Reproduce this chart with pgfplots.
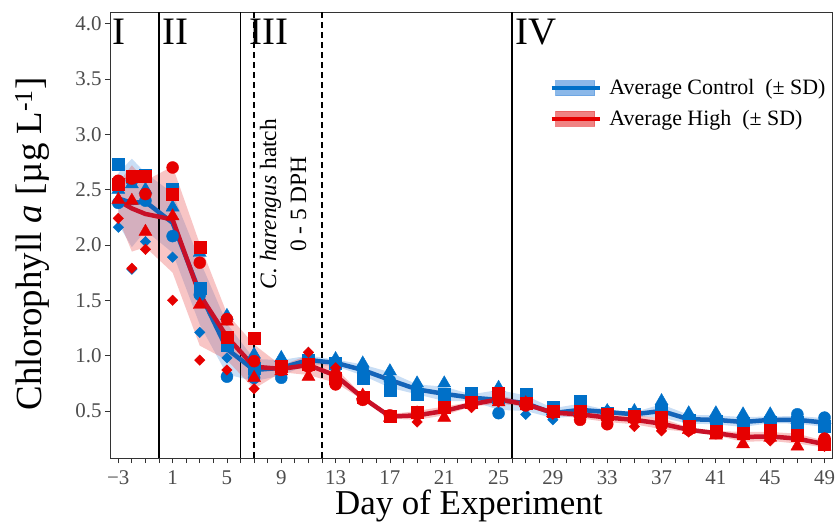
\documentclass[border=0pt]{standalone}
\usepackage{pgfplots}
\pgfplotsset{compat=1.18}
\usepackage{pgfplotstable}
\usepgfplotslibrary{fillbetween}
\usepackage{fontspec}
\setmainfont{Liberation Serif}
\definecolor{cblue}{RGB}{0,112,200}
\definecolor{cline}{RGB}{20,100,185}
\definecolor{cfill}{RGB}{100,160,225}
\definecolor{hred}{RGB}{230,0,0}
\definecolor{hline}{RGB}{200,16,40}
\definecolor{hfill}{RGB}{235,90,90}
\definecolor{tickgray}{RGB}{77,77,77}
\definecolor{axgray}{RGB}{51,51,51}

\pgfplotstableread{
d c1 c2 c3 c4 h1 h2 h3 h4 cm cs hm hs
-3 2.73 2.38 2.50 2.16 2.55 2.58 2.41 2.24 2.42 0.23 2.40 0.16
-2 2.62 2.58 2.55 1.78 2.62 2.60 2.40 1.79 2.38 0.40 2.33 0.39
-1 2.63 2.40 2.50 2.03 2.62 2.46 2.12 1.96 2.39 0.26 2.28 0.30
1 2.50 2.08 2.34 1.89 2.46 2.70 2.26 1.50 2.20 0.27 2.23 0.48
3 1.61 1.55 1.93 1.21 1.98 1.84 1.46 0.96 1.57 0.29 1.55 0.46
5 1.09 0.81 1.36 0.98 1.17 1.33 1.31 0.87 1.06 0.23 1.17 0.21
7 0.89 0.80 1.01 0.78 1.16 0.95 0.80 0.70 0.87 0.10 0.90 0.20
9 0.90 0.80 0.98 0.88 0.90 0.87 0.86 0.88 0.89 0.07 0.88 0.03
11 0.96 0.95 1.01 0.93 0.92 0.90 0.81 1.03 0.96 0.04 0.915 0.09
13 0.93 0.90 0.97 0.94 0.80 0.74 0.86 0.89 0.935 0.03 0.82 0.065
15 0.80 0.88 0.93 0.87 0.62 0.60 0.64 0.61 0.87 0.05 0.62 0.02
17 0.69 0.77 0.86 0.80 0.45 0.46 0.44 0.45 0.78 0.07 0.45 0.02
19 0.65 0.68 0.75 0.70 0.49 0.47 0.48 0.40 0.695 0.045 0.46 0.04
21 0.65 0.60 0.75 0.62 0.53 0.52 0.44 0.50 0.655 0.065 0.50 0.04
23 0.66 0.60 0.64 0.59 0.58 0.57 0.56 0.53 0.62 0.03 0.56 0.02
25 0.62 0.48 0.71 0.59 0.66 0.60 0.58 0.58 0.60 0.09 0.605 0.04
27 0.65 0.57 0.58 0.47 0.57 0.55 0.57 0.55 0.57 0.07 0.56 0.02
29 0.53 0.47 0.50 0.42 0.50 0.49 0.48 0.47 0.48 0.045 0.485 0.02
31 0.59 0.48 0.50 0.47 0.50 0.42 0.48 0.47 0.51 0.055 0.47 0.035
33 0.48 0.47 0.50 0.51 0.47 0.38 0.46 0.45 0.49 0.02 0.44 0.04
35 0.47 0.46 0.50 0.46 0.45 0.43 0.44 0.36 0.47 0.02 0.42 0.04
37 0.50 0.47 0.59 0.45 0.44 0.37 0.41 0.32 0.50 0.06 0.385 0.05
39 0.42 0.41 0.48 0.39 0.36 0.33 0.33 0.31 0.425 0.04 0.33 0.02
41 0.41 0.40 0.48 0.38 0.32 0.30 0.28 0.30 0.42 0.04 0.30 0.02
43 0.39 0.38 0.47 0.37 0.30 0.29 0.20 0.27 0.40 0.045 0.265 0.045
45 0.40 0.41 0.47 0.40 0.33 0.27 0.26 0.23 0.42 0.03 0.27 0.04
47 0.40 0.47 0.42 0.39 0.28 0.27 0.18 0.26 0.42 0.035 0.25 0.045
49 0.36 0.44 0.42 0.36 0.20 0.25 0.18 0.18 0.395 0.04 0.20 0.03
}\data

\begin{document}
\begin{tikzpicture}
\begin{axis}[
  at={(0,0)}, anchor=south west,
  scale only axis, width=722bp, height=446bp,
  xmin=-3.61, xmax=49.55, ymin=0.075, ymax=4.105,
  xtick={-3,1,...,49},
  xticklabels={−3,1,5,9,13,17,21,25,29,33,37,41,45,49},
  minor xtick={-3,...,49},
  ytick={0.5,1,...,4},
  yticklabels={0.5,1.0,1.5,2.0,2.5,3.0,3.5,4.0},
  tick pos=left, tick align=outside,
  major tick length=5bp, minor tick length=5bp,
  tick style={line width=0.8bp, color=axgray},
  axis line style={line width=0.9bp, color=axgray},
  ticklabel style={font=\fontsize{21}{21}\selectfont, color=tickgray},
  xticklabel style={yshift=-4bp},
  xlabel={Day of Experiment},
  ylabel={Chlorophyll \textit{a} [µg L\textsuperscript{-1}]},
  label style={font=\fontsize{35}{35}\selectfont, color=black},
  xlabel style={at={(axis description cs:0.497,-0.126)}, anchor=base},
  ylabel style={at={(axis description cs:-0.108,0.480)}, anchor=center, font=\fontsize{37}{37}\selectfont},
  legend style={at={(axis description cs:0.609,0.853)}, anchor=north west,
    draw=none, fill=none, font=\fontsize{22}{22}\selectfont,
    row sep=10bp, inner sep=0pt,
    nodes={inner xsep=8bp}},
  legend cell align=left,
]
% SD ribbons
\addplot[name path=cu, draw=none, forget plot] table[x=d, y expr=\thisrow{cm}+\thisrow{cs}]{\data};
\addplot[name path=cl, draw=none, forget plot] table[x=d, y expr=\thisrow{cm}-\thisrow{cs}]{\data};
\addplot[fill=cfill, fill opacity=0.35, draw=none, forget plot] fill between[of=cu and cl];
\addplot[name path=hu, draw=none, forget plot] table[x=d, y expr=\thisrow{hm}+\thisrow{hs}]{\data};
\addplot[name path=hl, draw=none, forget plot] table[x=d, y expr=\thisrow{hm}-\thisrow{hs}]{\data};
\addplot[fill=hfill, fill opacity=0.35, draw=none, forget plot] fill between[of=hu and hl];
% phase lines
\draw[black, line width=1.7bp] (axis cs:0,0.075) -- (axis cs:0,4.105);
\draw[black, line width=1.7bp] (axis cs:6,0.075) -- (axis cs:6,4.105);
\draw[black, line width=1.7bp] (axis cs:26,0.075) -- (axis cs:26,4.105);
\draw[black, line width=1.4bp, dash pattern=on 6bp off 4bp] (axis cs:7,0.075) -- (axis cs:7,4.105);
\draw[black, line width=1.4bp, dash pattern=on 6bp off 4bp] (axis cs:12,0.075) -- (axis cs:12,4.105);
% average lines
\addplot[cline, line width=4.5bp, no marks, forget plot] table[x=d, y=cm]{\data};
\addplot[hline, line width=4.5bp, no marks, forget plot] table[x=d, y=hm]{\data};
% replicate markers: control
\addplot[only marks, mark=square*, cblue, mark size=6bp, forget plot] table[x=d, y=c1]{\data};
\addplot[only marks, mark=*, cblue, mark size=6bp, forget plot] table[x=d, y=c2]{\data};
\addplot[only marks, mark=triangle*, cblue, mark size=7.5bp, forget plot] table[x=d, y=c3]{\data};
\addplot[only marks, mark=square*, cblue, mark size=3.7bp, mark options={rotate=45}, forget plot] table[x=d, y=c4]{\data};
% replicate markers: high
\addplot[only marks, mark=square*, hred, mark size=6bp, forget plot] table[x=d, y=h1]{\data};
\addplot[only marks, mark=*, hred, mark size=6bp, forget plot] table[x=d, y=h2]{\data};
\addplot[only marks, mark=triangle*, hred, mark size=7.5bp, forget plot] table[x=d, y=h3]{\data};
\addplot[only marks, mark=square*, hred, mark size=3.7bp, mark options={rotate=45}, forget plot] table[x=d, y=h4]{\data};
% phase labels
\node[anchor=north west, inner sep=0pt, font=\fontsize{39}{39}\selectfont] at (axis cs:-3.45,4.04) {I};
\node[anchor=north west, inner sep=0pt, font=\fontsize{39}{39}\selectfont] at (axis cs:0.22,4.04) {II};
\node[anchor=north west, inner sep=0pt, font=\fontsize{39}{39}\selectfont] at (axis cs:6.62,4.04) {III};
\node[anchor=north west, inner sep=0pt, font=\fontsize{39}{39}\selectfont] at (axis cs:26.23,4.04) {IV};
\node[rotate=90, align=center, font=\fontsize{23.5}{30}\selectfont] at (axis cs:9.14,2.37) {\textit{C. harengus} hatch\\0 - 5 DPH};
% legend
\addlegendimage{legend image code/.code={
  \fill[cfill, opacity=0.75] (4bp,-7.5bp) rectangle (43bp,7.5bp);
  \draw[cblue, line width=3.5bp] (0bp,0bp) -- (48bp,0bp);}}
\addlegendentry{Average Control~~(± SD)}
\addlegendimage{legend image code/.code={
  \fill[hfill, opacity=0.75] (4bp,-7.5bp) rectangle (43bp,7.5bp);
  \draw[hred, line width=3.5bp] (0bp,0bp) -- (48bp,0bp);}}
\addlegendentry{Average High~~(± SD)}
\end{axis}
\pgfresetboundingbox
\useasboundingbox (-110bp,-66bp) rectangle (727bp,458bp);
\end{tikzpicture}
\end{document}
